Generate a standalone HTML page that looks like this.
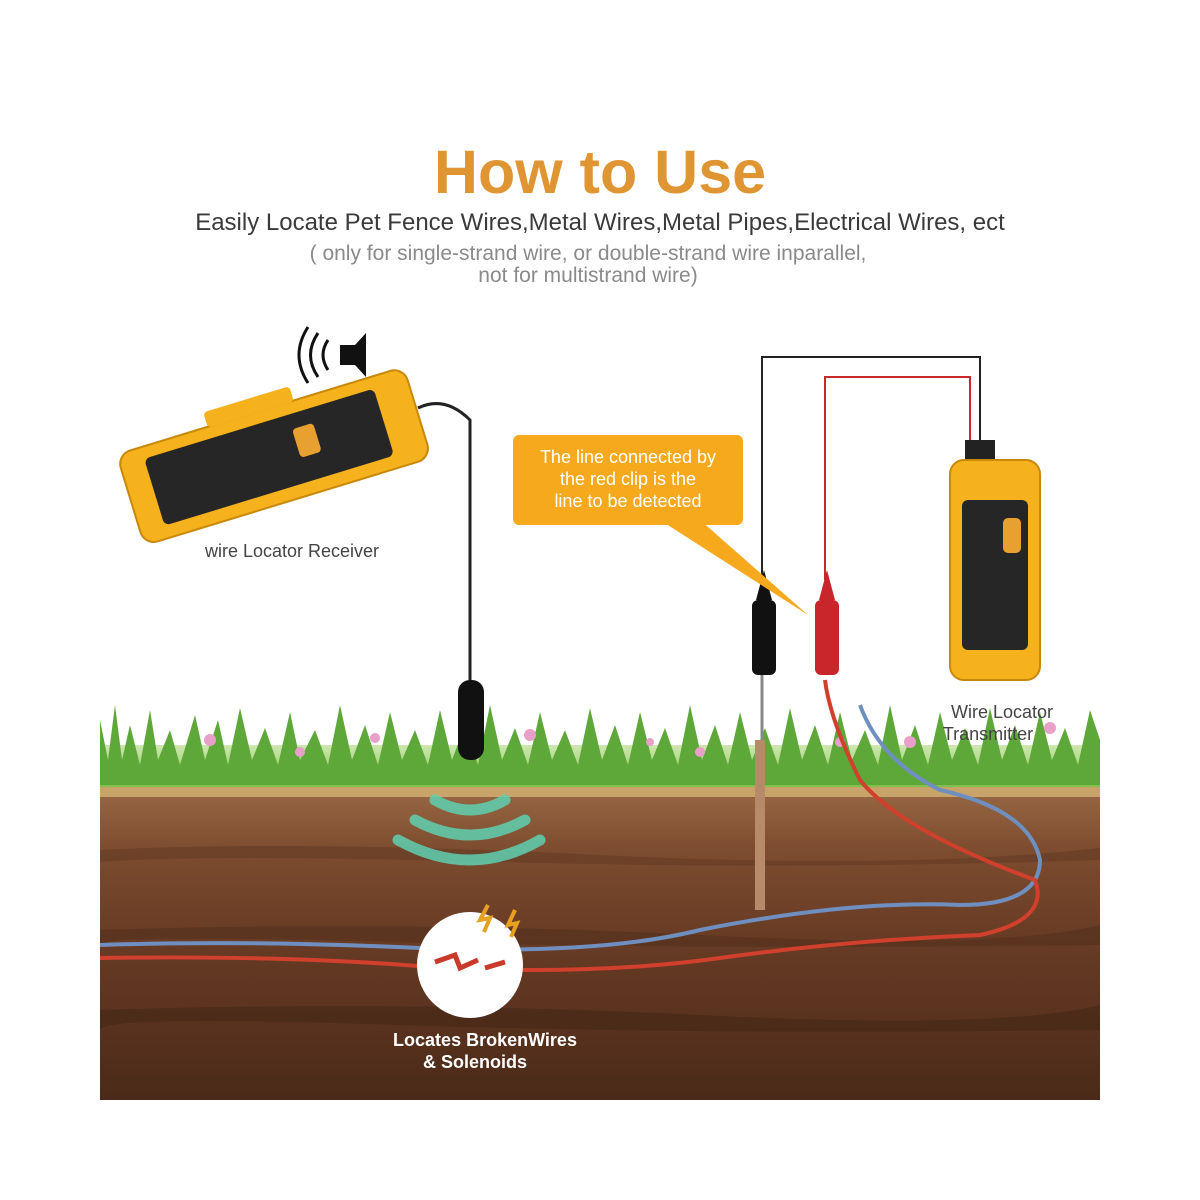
<!DOCTYPE html>
<html><head><meta charset="utf-8"><style>
html,body{margin:0;padding:0;background:#fff}
svg{display:block}
</style></head><body>
<svg width="1200" height="1200" viewBox="0 0 1200 1200" xmlns="http://www.w3.org/2000/svg" font-family="Liberation Sans, sans-serif">
<rect width="1200" height="1200" fill="#fff"/>
<text x="600" y="193" text-anchor="middle" font-size="61" font-weight="bold" fill="#df9632">How to Use</text>
<text x="600" y="230" text-anchor="middle" font-size="24" fill="#3a3a3a">Easily Locate Pet Fence Wires,Metal Wires,Metal Pipes,Electrical Wires, ect</text>
<text x="588" y="260" text-anchor="middle" font-size="21" fill="#8a8a8a">( only for single-strand wire, or double-strand wire inparallel,</text>
<text x="588" y="282" text-anchor="middle" font-size="21" fill="#8a8a8a">not for multistrand wire)</text>

<defs>
<linearGradient id="soil" x1="0" y1="0" x2="0" y2="1">
<stop offset="0" stop-color="#9a6a45"/>
<stop offset="0.2" stop-color="#7e4d30"/>
<stop offset="0.45" stop-color="#6a3d25"/>
<stop offset="0.7" stop-color="#5c3420"/>
<stop offset="1" stop-color="#4a2a18"/>
</linearGradient>
<linearGradient id="grass" x1="0" y1="0" x2="0" y2="1">
<stop offset="0" stop-color="#cfe8b0"/>
<stop offset="1" stop-color="#7fbf4a"/>
</linearGradient>
</defs>
<rect x="100" y="785" width="1000" height="315" fill="url(#soil)"/>
<rect x="100" y="785" width="1000" height="12" fill="#c9a46a"/>
<path d="M100 850 Q300 840 600 855 T1100 848 L1100 860 Q800 870 500 862 T100 862Z" fill="#5e3722" opacity="0.5"/>
<path d="M100 930 Q400 920 700 935 T1100 925 L1100 945 Q700 950 400 942 T100 945Z" fill="#4f2d1b" opacity="0.5"/>
<path d="M100 1010 Q400 1000 700 1015 T1100 1005 L1100 1030 Q700 1035 400 1025 T100 1030Z" fill="#3f2314" opacity="0.5"/>
<rect x="100" y="745" width="1000" height="42" fill="url(#grass)"/>
<path d="M100 785 L100 720 L108 760 L115 705 L122 760 L130 725 L140 765 L150 710 L158 760 L170 730 L180 765 L195 715 L205 760 L218 720 L228 765 L240 708 L252 760 L265 728 L278 765 L290 712 L300 760 L315 730 L328 765 L340 705 L352 760 L365 725 L378 765 L390 712 L402 760 L415 730 L428 765 L440 710 L452 760 L465 725 L478 765 L490 705 L502 760 L515 728 L528 765 L540 712 L552 760 L565 730 L578 765 L590 708 L602 760 L615 725 L628 765 L640 712 L652 760 L665 728 L678 765 L690 705 L702 760 L715 725 L728 765 L740 712 L752 760 L765 728 L778 765 L790 708 L802 760 L815 725 L828 765 L840 712 L852 760 L865 730 L878 765 L890 705 L902 760 L915 725 L928 765 L940 712 L952 760 L965 728 L978 765 L990 708 L1002 760 L1015 725 L1028 765 L1040 712 L1052 760 L1065 728 L1078 765 L1090 710 L1100 740 L1100 785Z" fill="#5ea83a"/>
<g fill="#e8a0c8">
<circle cx="210" cy="740" r="6"/><circle cx="300" cy="752" r="5"/><circle cx="375" cy="738" r="5"/><circle cx="530" cy="735" r="6"/><circle cx="700" cy="752" r="5"/><circle cx="840" cy="742" r="5"/><circle cx="910" cy="742" r="6"/><circle cx="1050" cy="728" r="6"/><circle cx="650" cy="742" r="4"/>
</g>

<path d="M100 945 Q250 940 420 948 Q600 955 700 930 Q850 900 960 905 Q1040 905 1040 860 Q1030 810 940 790 Q880 760 860 705" stroke="#6f8fc0" stroke-width="4" fill="none"/>
<path d="M100 958 Q300 955 440 968 Q600 975 720 958 Q850 940 980 935 Q1050 920 1035 880 Q900 830 860 780 Q830 720 825 680" stroke="#d0402c" stroke-width="4" fill="none"/>
<circle cx="470" cy="965" r="53" fill="#fff"/>
<path d="M435 962 L455 955 L460 968 L478 960 M485 968 L505 962" stroke="#c93a2a" stroke-width="5" fill="none"/>
<path d="M488 905 L480 920 L490 918 L484 932" stroke="#e8a020" stroke-width="4" fill="none"/>
<path d="M515 910 L508 925 L517 923 L511 937" stroke="#e8a020" stroke-width="4" fill="none"/>
<text x="485" y="1046" text-anchor="middle" font-size="18" font-weight="bold" fill="#fff">Locates BrokenWires</text>
<text x="475" y="1068" text-anchor="middle" font-size="18" font-weight="bold" fill="#fff">&amp; Solenoids</text>

<g fill="none" stroke="#5fd0b0" stroke-width="11" stroke-linecap="round" opacity="0.85">
<path d="M435 800 Q470 820 505 800"/>
<path d="M415 820 Q470 850 525 820"/>
<path d="M398 840 Q470 880 540 840"/>
</g>

<path d="M418 408 Q445 395 470 420 L470 690" stroke="#222" stroke-width="3" fill="none"/>
<rect x="458" y="680" width="26" height="80" rx="12" fill="#111"/>

<g transform="rotate(-17 270 460)">
<rect x="125" y="410" width="300" height="95" rx="14" fill="#f6b21c" stroke="#c8880a" stroke-width="2"/>
<rect x="150" y="422" width="240" height="70" rx="6" fill="#262626"/>
<rect x="300" y="437" width="22" height="30" rx="4" fill="#e8a030"/>
<rect x="220" y="395" width="90" height="16" rx="4" fill="#f6b21c"/>
</g>
<text x="292" y="557" text-anchor="middle" font-size="18" fill="#444">wire Locator Receiver</text>
<path d="M340 345 L355 345 L366 333 L366 377 L355 365 L340 365Z" fill="#111"/>
<path d="M328 340 Q318 355 328 370 M318 333 Q303 355 318 377 M308 327 Q290 355 308 383" stroke="#111" stroke-width="3" fill="none"/>

<path d="M762 580 L762 357 L980 357 L980 455" stroke="#222" stroke-width="2" fill="none"/>
<path d="M825 580 L825 377 L970 377 L970 455" stroke="#c82a2a" stroke-width="2" fill="none"/>
<rect x="752" y="600" width="24" height="75" rx="6" fill="#111"/>
<path d="M756 600 L764 570 L772 600Z" fill="#111"/>
<rect x="815" y="600" width="24" height="75" rx="6" fill="#c8262a"/>
<path d="M819 600 L827 570 L835 600Z" fill="#c8262a"/>
<path d="M762 675 L762 740" stroke="#888" stroke-width="3"/>
<rect x="755" y="740" width="10" height="170" fill="#b78a6a"/>

<path d="M700 520 L808 615 L660 520Z" fill="#f6a91c"/>
<rect x="513" y="435" width="230" height="90" rx="6" fill="#f6a91c"/>
<text x="628" y="463" text-anchor="middle" font-size="18" fill="#fff">The line connected by</text>
<text x="628" y="485" text-anchor="middle" font-size="18" fill="#fff">the red clip is the</text>
<text x="628" y="507" text-anchor="middle" font-size="18" fill="#fff">line to be detected</text>

<rect x="965" y="440" width="30" height="25" fill="#222"/>
<rect x="950" y="460" width="90" height="220" rx="14" fill="#f6b21c" stroke="#c8880a" stroke-width="2"/>
<rect x="962" y="500" width="66" height="150" rx="6" fill="#262626"/>
<rect x="1003" y="518" width="18" height="35" rx="5" fill="#e8a030"/>
<text x="1002" y="718" text-anchor="middle" font-size="18" fill="#444">Wire Locator</text>
<text x="988" y="740" text-anchor="middle" font-size="18" fill="#444">Transmitter</text>
</svg>
</body></html>
